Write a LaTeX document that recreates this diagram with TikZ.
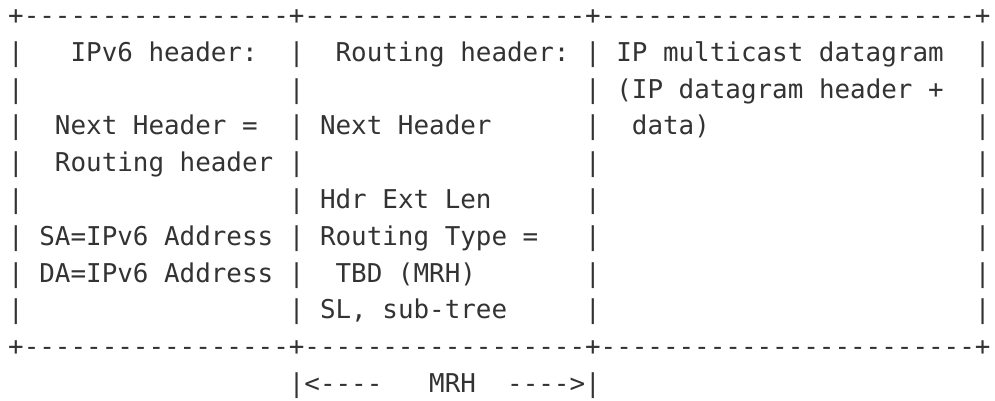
\documentclass[tikz,border=0pt]{standalone}
\usepackage{fontspec}
\setmonofont{DejaVu Sans Mono}
\usepackage{tikz}
\definecolor{ink}{HTML}{333333}
\newcommand{\pad}[1]{\foreach \k in {1,...,#1}{~}}

\begin{document}
\begin{tikzpicture}[x=1pt,y=1pt,
	asciirow/.style={anchor=base west,inner sep=0pt,outer sep=0pt,text=ink,
		font=\ttfamily\fontsize{25.9}{30}\selectfont}]
	\fill[white] (0,0) rectangle (995,400);
	\useasboundingbox (0,0) rectangle (995,400);
	
	% top edge
	\node[asciirow] (r0) at (8.2,375.5) {+-----------------+------------------+------------------------+};
	
	% fields
	\node[asciirow] (r1) at (8.2,338.7) {|~~~IPv6~header:~~|~~Routing~header:~|~IP~multicast~datagram~~|};
	\node[asciirow] (r2) at (8.2,301.9) {|\pad{17}|\pad{18}|~(IP~datagram~header~+~~|};
	\node[asciirow] (r3) at (8.2,265.1) {|~~Next~Header~=~~|~Next~Header~~~~~~|~~data)\pad{17}|};
	\node[asciirow] (r4) at (8.2,228.3) {|~~Routing~header~|\pad{18}|\pad{24}|};
	\node[asciirow] (r5) at (8.2,191.5) {|\pad{17}|~Hdr~Ext~Len~~~~~~|\pad{24}|};
	\node[asciirow] (r6) at (8.2,154.7) {|~SA=IPv6~Address~|~Routing~Type~=~~~|\pad{24}|};
	\node[asciirow] (r7) at (8.2,117.9) {|~DA=IPv6~Address~|~~TBD~(MRH)~~~~~~~|\pad{24}|};
	\node[asciirow] (r8) at (8.2,81.1) {|\pad{17}|~SL,~sub-tree~~~~~|\pad{24}|};
	
	% bottom edge
	\node[asciirow] (r9) at (8.2,44.3) {+-----------------+------------------+------------------------+};
	
	% MRH span
	\node[asciirow] (r10) at (8.2,7.5) {\pad{18}|<----~~~MRH~~---->|};
\end{tikzpicture}
\end{document}
